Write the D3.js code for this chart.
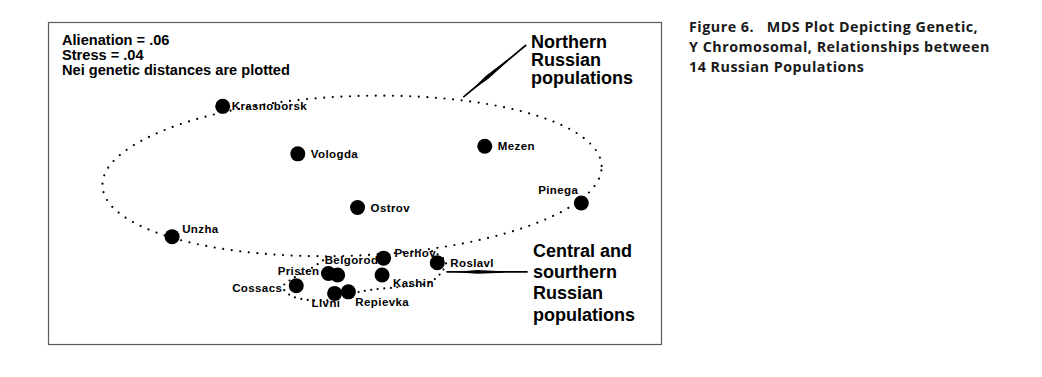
<!DOCTYPE html>
<html>
<head>
<meta charset="utf-8">
<script src="https://cdn.jsdelivr.net/npm/d3@7"></script>
<style>
  html, body { margin: 0; padding: 0; background: #fff; }
  svg { display: block; }
</style>
</head>
<body>
<svg id="chart" width="1042" height="377"></svg>
<script>
// ---- Data (MDS dimension coordinates) ----
const populations = ["Krasnoborsk","Vologda","Mezen","Ostrov","Pinega","Unzha","Perhov","Roslavl",
                     "Belgorod","Pristen","Kashin","Cossacs","Livni","Repievka"];
const dim1 = [-0.86, -0.37, 0.85, 0.02, 1.48, -1.19, 0.19, 0.54, -0.11, -0.17, 0.18, -0.38, -0.13, -0.04];
const dim2 = [ 0.50,  0.19, 0.24, -0.16, -0.13, -0.35, -0.49, -0.52, -0.60, -0.59, -0.60, -0.67, -0.72, -0.71];

const statsLines = ["Alienation = .06", "Stress = .04", "Nei genetic distances are plotted"];
const northLabel = ["Northern", "Russian", "populations"];
const southLabel = ["Central and", "sourthern", "Russian", "populations"];
const captionLines = ["Figure 6.   MDS Plot Depicting Genetic,", "Y Chromosomal, Relationships between", "14 Russian Populations"];

// Northern group ellipse (in data units): center, radii, tilt (deg)
const northEllipse = {cx: -0.016, cy: 0.046, rx: 1.63, ry: 0.52, tilt: 2.3};
// Central/southern group contour anchors (data units)
const southX = [0.506, 0.597, 0.558, 0.480, 0.297, 0.101, -0.029, -0.160, -0.303, -0.421, -0.467, -0.408, -0.290, -0.192];
const southY = [-0.444, -0.515, -0.594, -0.652, -0.678, -0.698, -0.724, -0.763, -0.763, -0.731, -0.678, -0.626, -0.561, -0.496];

// ---- Layout / styles ----
const svg = d3.select("#chart");
const frame = {x0: 48, y0: 22, x1: 661, y1: 344};
const x = d3.scaleLinear().domain([-2, 2]).range([frame.x0, frame.x1]);
const y = d3.scaleLinear().domain([-1.05, 1.05]).range([frame.y1, frame.y0]);

// label offsets (px) relative to point: [dx, dy, anchor]
const labelPos = {
  Krasnoborsk: [9, 4, "start"], Vologda: [13, 4, "start"], Mezen: [13, 4, "start"],
  Ostrov: [13, 4.5, "start"], Pinega: [-3, -9, "end"], Unzha: [10, -4, "start"],
  Perhov: [11, -1, "start"], Roslavl: [13, 4.5, "start"], Belgorod: [-13, -11, "start"],
  Pristen: [-9, 2, "end"], Kashin: [11, 12, "start"], Cossacs: [-14, 6, "end"],
  Livni: [-23, 14, "start"], Repievka: [7, 14, "start"]
};

const font = "'Liberation Sans', Arial, Helvetica, sans-serif";

// frame
svg.append("rect")
  .attr("x", frame.x0 + 0.5).attr("y", frame.y0 + 0.5)
  .attr("width", frame.x1 - frame.x0).attr("height", frame.y1 - frame.y0)
  .attr("fill", "none").attr("stroke", "#5a5a5a").attr("stroke-width", 1.2);

// stats text
svg.append("g").selectAll("text").data(statsLines).join("text")
  .attr("x", 62).attr("y", (d, i) => 45 + i * 15)
  .attr("font-family", font).attr("font-weight", "bold").attr("font-size", 14.6)
  .attr("fill", "#000").text(d => d);

// northern ellipse (dotted)
const t = northEllipse.tilt * Math.PI / 180;
const ellPts = d3.range(0, 361, 2).map(a => {
  const r = a * Math.PI / 180;
  const ex = northEllipse.rx * Math.cos(r), ey = northEllipse.ry * Math.sin(r);
  return [northEllipse.cx + ex * Math.cos(t) - ey * Math.sin(t),
          northEllipse.cy + ex * Math.sin(t) + ey * Math.cos(t)];
});
const line = d3.line().x(d => x(d[0])).y(d => y(d[1]));
svg.append("path").attr("d", line(ellPts))
  .attr("fill", "none").attr("stroke", "#000").attr("stroke-width", 2.2)
  .attr("stroke-linecap", "round").attr("stroke-dasharray", "0 8.6");

// southern contour (dotted)
const southPts = southX.map((v, i) => [v, southY[i]]);
svg.append("path").attr("d", line.curve(d3.curveCatmullRom)(southPts))
  .attr("fill", "none").attr("stroke", "#000").attr("stroke-width", 2.2)
  .attr("stroke-linecap", "round").attr("stroke-dasharray", "0 6.5");

// points
const pts = populations.map((p, i) => ({name: p, x: dim1[i], y: dim2[i]}));
svg.append("g").selectAll("circle").data(pts).join("circle")
  .attr("cx", d => x(d.x)).attr("cy", d => y(d.y)).attr("r", 7.5).attr("fill", "#000");

// labels
svg.append("g").selectAll("text").data(pts).join("text")
  .attr("x", d => x(d.x) + labelPos[d.name][0])
  .attr("y", d => y(d.y) + labelPos[d.name][1])
  .attr("text-anchor", d => labelPos[d.name][2])
  .attr("font-family", font).attr("font-weight", "bold").attr("font-size", 11.5)
  .attr("letter-spacing", 0.4)
  .attr("fill", "#000").text(d => d.name);

// annotation arrows (data units)
const northArrow = {from: [1.12, 0.90], to: [0.71, 0.56]};
const southArrow = {from: [1.13, -0.58], to: [0.60, -0.58]};
function arrow(a) {
  const x0 = x(a.from[0]), y0 = y(a.from[1]), x1 = x(a.to[0]), y1 = y(a.to[1]);
  svg.append("line").attr("x1", x0).attr("y1", y0).attr("x2", x1).attr("y2", y1)
    .attr("stroke", "#000").attr("stroke-width", 1.7);
  const L = Math.hypot(x1 - x0, y1 - y0), ux = (x1 - x0) / L, uy = (y1 - y0) / L;
  const nx = -uy, ny = ux;
  const p = f => [x0 + ux * L * f, y0 + uy * L * f];
  const a1 = p(0.3), a2 = p(0.62), a3 = p(0.92);
  const w = 1.9;
  const poly = [[a1[0] + nx * 0.8, a1[1] + ny * 0.8], [a2[0] + nx * w, a2[1] + ny * w], a3,
                [a2[0] - nx * w, a2[1] - ny * w], [a1[0] - nx * 0.8, a1[1] - ny * 0.8]];
  svg.append("polygon").attr("points", poly.map(q => q.join(",")).join(" ")).attr("fill", "#000");
}
arrow(northArrow);
arrow(southArrow);

// group labels
svg.append("g").selectAll("text").data(northLabel).join("text")
  .attr("x", 531).attr("y", (d, i) => 48 + i * 17.8)
  .attr("font-family", font).attr("font-weight", "bold").attr("font-size", 18)
  .attr("fill", "#000").text(d => d);
svg.append("g").selectAll("text").data(southLabel).join("text")
  .attr("x", 533).attr("y", (d, i) => 257 + i * 21.2)
  .attr("font-family", font).attr("font-weight", "bold").attr("font-size", 18)
  .attr("fill", "#000").text(d => d);

// caption
svg.append("g").selectAll("text").data(captionLines).join("text")
  .attr("x", 689).attr("y", (d, i) => 31.5 + i * 20.3)
  .attr("font-family", "'Open Sans', 'Noto Sans', sans-serif").attr("font-weight", 700)
  .attr("font-size", 14.3).attr("letter-spacing", 0.5)
  .attr("fill", "#1a1a1a").style("white-space", "pre")
  .text(d => d);
</script>
</body>
</html>
